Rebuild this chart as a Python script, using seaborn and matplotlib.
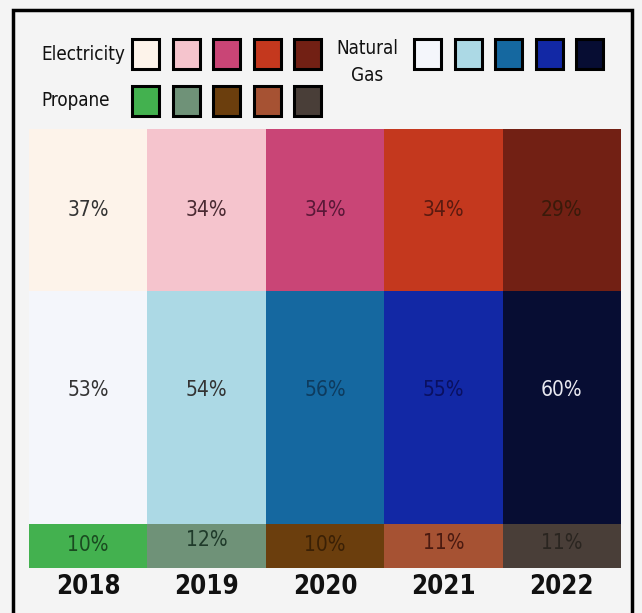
import matplotlib
matplotlib.use("Agg")
import matplotlib.pyplot as plt
import matplotlib.patches as mpatches
import seaborn as sns

# Data
years = ["2018", "2019", "2020", "2021", "2022"]
propane = [10, 12, 10, 11, 11]
natural_gas = [53, 54, 56, 55, 60]
electricity = [37, 34, 34, 34, 29]

elec_colors = ["#fdf3ea", "#f5c4cd", "#c94576", "#c4381e", "#722014"]
gas_colors = ["#f4f6fb", "#acd9e5", "#1568a0", "#1228a5", "#070d33"]
prop_colors = ["#43b14f", "#6f9278", "#6b3e0d", "#a65233", "#493e38"]

elec_text = ["#333333", "#4a2a32", "#5a1838", "#5a1a10", "#3a1a0a"]
gas_text = ["#333333", "#333333", "#0e3b5e", "#0a1060", "#e8e8f0"]
prop_text = ["#1a4a20", "#1f3a2a", "#3a2005", "#4a1a10", "#2a2520"]

sns.set_theme(style="white")
plt.rcParams["font.family"] = ["DejaVu Sans"]
plt.rcParams["font.stretch"] = "condensed"

bg = "#f4f4f4"
fig = plt.figure(figsize=(6.42, 6.13), dpi=100, facecolor=bg)
ax = fig.add_axes([29 / 642, 45 / 613, 592 / 642, 439 / 613])
ax.set_facecolor(bg)

# Stacked bars, one colour per year for each fuel
bottom_gas = propane
bottom_elec = [p + g for p, g in zip(propane, natural_gas)]
sns.barplot(x=years, y=propane, hue=years, palette=prop_colors, legend=False,
            width=1, saturation=1, linewidth=0, ax=ax)
sns.barplot(x=years, y=natural_gas, hue=years, palette=gas_colors, legend=False,
            width=1, saturation=1, linewidth=0, bottom=bottom_gas, ax=ax)
sns.barplot(x=years, y=electricity, hue=years, palette=elec_colors, legend=False,
            width=1, saturation=1, linewidth=0, bottom=bottom_elec, ax=ax)

ax.set_xlim(-0.5, 4.5)
ax.set_ylim(0, 100)
for s in ax.spines.values():
    s.set_visible(False)
ax.set_yticks([])
ax.set_xlabel("")
ax.set_ylabel("")
ax.tick_params(axis="x", length=0, pad=4)
for lbl in ax.get_xticklabels():
    lbl.set_fontsize(18.5)
    lbl.set_fontweight("bold")
    lbl.set_color("#111111")

# Percentage labels
for i in range(len(years)):
    ax.text(i, 81.5, f"{electricity[i]}%", ha="center", va="center",
            fontsize=15, color=elec_text[i])
    ax.text(i, 40.5, f"{natural_gas[i]}%", ha="center", va="center",
            fontsize=15, color=gas_text[i])
    ax.text(i, propane[i] / 2 + 0.3, f"{propane[i]}%", ha="center", va="center",
            fontsize=15, color=prop_text[i])

# Hand-made legend of swatches
W, H = 642, 613


def swatch(x, y, c):
    fig.patches.append(mpatches.Rectangle((x / W, 1 - (y + 30) / H), 27 / W, 30 / H,
                                          transform=fig.transFigure, facecolor=c,
                                          edgecolor="black", linewidth=2.2))


for k, c in enumerate(elec_colors):
    swatch(132 + 40.5 * k, 39, c)
for k, c in enumerate(gas_colors):
    swatch(414 + 40.5 * k, 39, c)
for k, c in enumerate(prop_colors):
    swatch(132 + 40.5 * k, 86, c)

fig.text(41 / W, 1 - 54 / H, "Electricity", ha="left", va="center", fontsize=13.5, color="#111111")
fig.text(367 / W, 1 - 62 / H, "Natural\nGas", ha="center", va="center", fontsize=13.5,
         color="#111111", linespacing=1.5)
fig.text(41 / W, 1 - 101 / H, "Propane", ha="left", va="center", fontsize=13.5, color="#111111")

# Outer frame (runs off the bottom edge)
fig.patches.append(mpatches.Rectangle((13 / W, -0.05), 619 / W, 1.05 - 10 / H,
                                      transform=fig.transFigure, fill=False,
                                      edgecolor="black", linewidth=2.5))

fig.savefig("out.png", dpi=100, facecolor=bg)
